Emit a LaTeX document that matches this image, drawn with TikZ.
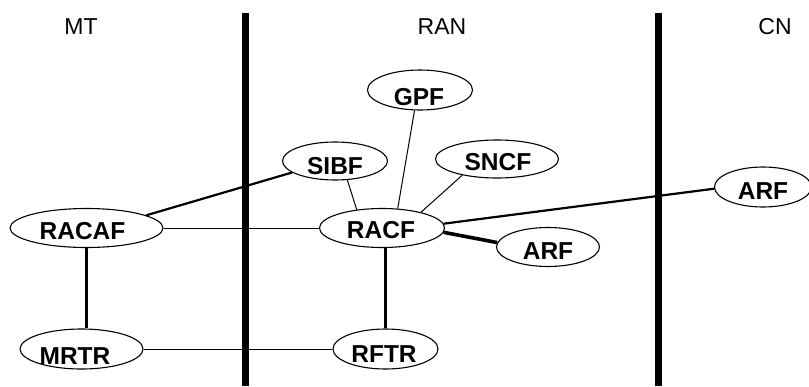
\documentclass[tikz,border=0pt]{standalone}
\usepackage{fontspec}
\setmainfont{Liberation Sans}
\usetikzlibrary{shapes.geometric}
\begin{document}
\begin{tikzpicture}[x=1pt,y=-1pt,
  ell/.style={draw, ellipse, inner sep=0pt, line width=1.1pt},
  lbl/.style={inner sep=0pt, font=\fontsize{24.5}{24.5}\selectfont\bfseries},
  hdr/.style={inner sep=0pt, font=\fontsize{23}{23}\selectfont},
  bar/.style={line width=7pt},
  thin/.style={line width=1pt},
  mid/.style={line width=2.2pt},
  thick/.style={line width=3.6pt}]
\useasboundingbox (0,0) rectangle (809,386);
% headers
\node[hdr] (mt) at (81,27) {MT};
\node[hdr] (ran) at (442,27) {RAN};
\node[hdr] (cn) at (775,27) {CN};
% bars
\coordinate (b1t) at (245,13); \coordinate (b1b) at (245,386);
\coordinate (b2t) at (658,13); \coordinate (b2b) at (658,386);
\draw[bar] (b1t) -- (b1b);
\draw[bar] (b2t) -- (b2b);
% ellipses
\node[ell, minimum width=153pt, minimum height=39pt] (racaf) at (86.5,228) {};
\node[ell, minimum width=123pt, minimum height=40pt] (mrtr) at (81.5,349) {};
\node[ell, minimum width=105pt, minimum height=40pt] (gpf) at (420,90) {};
\node[ell, minimum width=105pt, minimum height=38pt] (sibf) at (335,161) {};
\node[ell, minimum width=123pt, minimum height=38pt] (sncf) at (497,159) {};
\node[ell, minimum width=125pt, minimum height=39pt] (racf) at (382,228) {};
\node[ell, minimum width=103pt, minimum height=39pt] (arf1) at (548,247) {};
\node[ell, minimum width=97pt, minimum height=40pt] (arf2) at (763,187) {};
\node[ell, minimum width=105pt, minimum height=40pt] (rftr) at (385.5,349) {};
% labels
\node[lbl] (tracaf) at (82.5,231) {RACAF};
\node[lbl] (tmrtr) at (75,356) {MRTR};
\node[lbl] (tgpf) at (419,97) {GPF};
\node[lbl] (tsibf) at (335,166) {SIBF};
\node[lbl] (tsncf) at (498,162) {SNCF};
\node[lbl] (tracf) at (381,230) {RACF};
\node[lbl] (tarf1) at (548,251) {ARF};
\node[lbl] (tarf2) at (763,191) {ARF};
\node[lbl] (trftr) at (384,354) {RFTR};
% connectors
\draw[mid] (racaf.south) -- (racaf.south |- mrtr.north);
\draw[thin] (racaf.east) -- (racf.west);
\draw[mid] (racaf.12) -- (sibf.195);
\draw[thin] (mrtr.east) -- (rftr.west);
\draw[thin] (sibf.-57) -- (racf.144);
\draw[thin] (gpf.-105) -- (racf.51);
\draw[thin] (sncf.205) -- (racf.22);
\draw[mid] (racf.4) -- (arf2.182);
\draw[thick] (racf.-4) -- (arf1.175);
\draw[mid] (rftr.north |- racf.south) -- (rftr.north);
\end{tikzpicture}
\end{document}
